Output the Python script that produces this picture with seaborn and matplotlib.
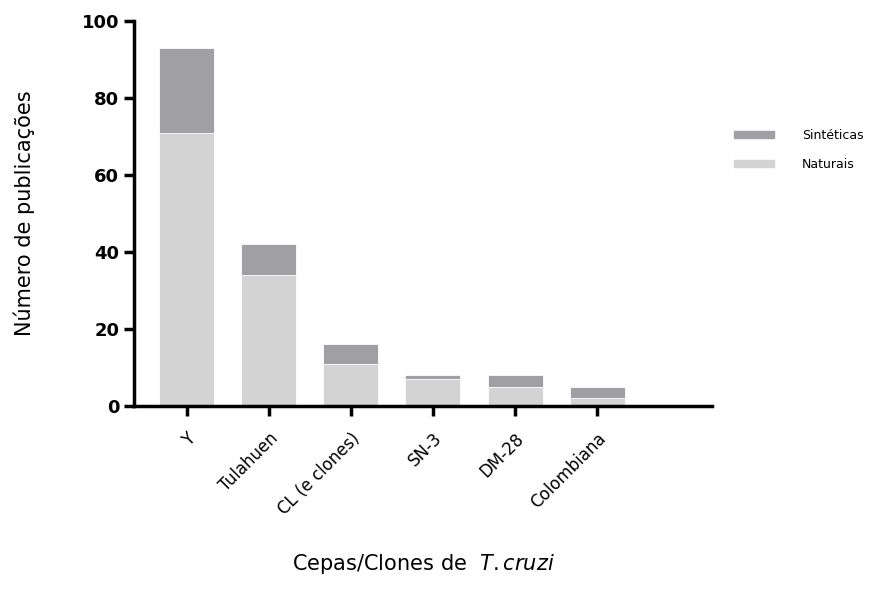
import numpy as np
import pandas as pd
import matplotlib
matplotlib.use("Agg")
import matplotlib.pyplot as plt
import seaborn as sns
from matplotlib.patches import Patch

sns.set_style("ticks")
plt.rcParams['font.family'] = ['DejaVu Sans']
plt.rcParams['text.color'] = 'black'
plt.rcParams['axes.labelcolor'] = 'black'

# -------------------------------
# Data
# -------------------------------
cepas = ["Y", "Tulahuen", "CL (e clones)", "SN-3", "DM-28", "Colombiana"]
naturais = [71, 34, 11, 7, 5, 2]
sinteticas = [22, 8, 5, 1, 3, 3]

df = pd.DataFrame({"cepa": cepas, "Naturais": naturais, "Sintéticas": sinteticas})
df["total"] = df["Naturais"] + df["Sintéticas"]

col_sint = "#A09FA4"
col_nat = "#D3D3D3"

fig = plt.figure(figsize=(8.87, 6.04), dpi=100)
ax = fig.add_axes([0.151, 0.328, 0.652, 0.637])

# stacked: total first (dark), naturais on top (light)
sns.barplot(data=df, x="cepa", y="total", color=col_sint, width=0.67,
            saturation=1, ax=ax, edgecolor="white", linewidth=0.6)
sns.barplot(data=df, x="cepa", y="Naturais", color=col_nat, width=0.67,
            saturation=1, ax=ax, edgecolor="white", linewidth=0.6)

ax.set_xlim(-0.64, 6.4)
ax.set_ylim(0, 100)
ax.set_yticks([0, 20, 40, 60, 80, 100])
ax.set_yticklabels(["0", "20", "40", "60", "80", "100"], fontsize=13, fontweight="bold")
ax.set_xticks(range(len(cepas)))
ax.set_xticklabels(cepas, rotation=45, ha="right", rotation_mode="anchor", fontsize=12)

for side in ["top", "right"]:
    ax.spines[side].set_visible(False)
for side in ["left", "bottom"]:
    ax.spines[side].set_linewidth(2.5)
    ax.spines[side].set_color("black")
ax.tick_params(axis="both", width=2.5, length=7, colors="black")
ax.tick_params(axis="x", pad=10)

ax.set_ylabel("Número de publicações", fontsize=15, labelpad=34)
ax.set_xlabel("Cepas/Clones de  $\\it{T. cruzi}$", fontsize=15, labelpad=24)

handles = [Patch(color=col_sint, label="Sintéticas"),
           Patch(color=col_nat, label="Naturais")]
fig.legend(handles=handles, loc="upper left", bbox_to_anchor=(0.815, 0.805),
           frameon=False, fontsize=9, handlelength=3.2, handleheight=0.5,
           handletextpad=2.2, labelspacing=1.3)

fig.savefig("out.png", dpi=100)
